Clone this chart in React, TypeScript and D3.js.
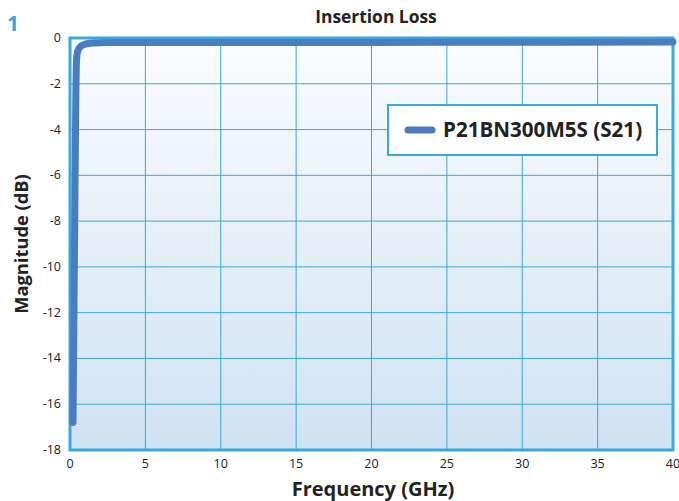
import * as d3 from 'd3';

const freqGHz = [0.2, 0.3, 0.38, 0.43, 0.5, 0.7, 1.0, 1.5, 2.5, 10, 25, 40];
const s21dB = [-16.8, -9, -3, -1.0, -0.6, -0.37, -0.27, -0.22, -0.2, -0.2, -0.19, -0.18];
const xTicks = [0, 5, 10, 15, 20, 25, 30, 35, 40];
const yTicks = [0, -2, -4, -6, -8, -10, -12, -14, -16, -18];
const seriesName = 'P21BN300M5S (S21)';

const W = 679;
const H = 501;
const margin = { top: 38, right: 6, bottom: 51, left: 70 };
const FONT = '"Open Sans", "Noto Sans", sans-serif';
const GRID = '#38a9dc';
const LINE = '#4a7dbf';

export default function App() {
  const innerW = W - margin.left - margin.right;
  const innerH = H - margin.top - margin.bottom;
  const x = d3.scaleLinear().domain([0, 40]).range([0, innerW]);
  const y = d3.scaleLinear().domain([-18, 0]).range([innerH, 0]);

  const pts = freqGHz.map((f, i) => [f, s21dB[i]] as [number, number]);
  const path = d3.line<[number, number]>()
    .x(d => x(d[0]))
    .y(d => y(d[1]))
    .curve(d3.curveMonotoneX)(pts) || '';

  return (
    <svg width={W} height={H} style={{ position: 'absolute', left: 0, top: 0, fontFamily: FONT }}>
      <defs>
        <linearGradient id="bg" x1="0" y1="0" x2="0" y2="1">
          <stop offset="0%" stopColor="#fbfcfe" />
          <stop offset="100%" stopColor="#cfe2f2" />
        </linearGradient>
      </defs>
      <rect width={W} height={H} fill="#ffffff" />
      <text x={7} y={31} fill="#3aa6d8" fontSize={21} fontWeight="bold">1</text>
      <text x={376} y={23} textAnchor="middle" fontSize={17.4} fontWeight="bold" fill="#222">
        Insertion Loss
      </text>
      <g transform={`translate(${margin.left},${margin.top})`}>
        <rect width={innerW} height={innerH} fill="url(#bg)" />
        {xTicks.slice(1, -1).map(t => (
          <line key={'gx' + t} x1={x(t)} x2={x(t)} y1={0} y2={innerH} stroke={GRID} strokeWidth={1} />
        ))}
        {yTicks.slice(1, -1).map(t => (
          <line key={'gy' + t} x1={0} x2={innerW} y1={y(t)} y2={y(t)} stroke={GRID} strokeWidth={1} />
        ))}
        <rect width={innerW} height={innerH} fill="none" stroke={GRID} strokeWidth={3} />
        {xTicks.map(t => (
          <text key={'tx' + t} x={x(t)} y={innerH + 18} textAnchor="middle" fontSize={12.5} fill="#222">{t}</text>
        ))}
        {yTicks.map(t => (
          <text key={'ty' + t} x={-9} y={y(t) + 4} textAnchor="end" fontSize={12.5} fill="#222">{t}</text>
        ))}
        <path d={path} fill="none" stroke={LINE} strokeWidth={7} strokeLinecap="round" strokeLinejoin="round" />
        <g transform={`translate(${388 - margin.left},${105 - margin.top})`}>
          <rect width={269} height={50} fill="#ffffff" stroke={GRID} strokeWidth={2} />
          <line x1={20} x2={44} y1={25} y2={25} stroke={LINE} strokeWidth={7} strokeLinecap="round" />
          <text x={55} y={32} fontSize={20.6} fontWeight="bold" fill="#222">{seriesName}</text>
        </g>
      </g>
      <text transform={`translate(28,${margin.top + innerH / 2}) rotate(-90)`} textAnchor="middle" fontSize={18.3} fontWeight="bold" fill="#222">
        Magnitude (dB)
      </text>
      <text x={373} y={496} textAnchor="middle" fontSize={20} fontWeight="bold" fill="#222">
        Frequency (GHz)
      </text>
    </svg>
  );
}
